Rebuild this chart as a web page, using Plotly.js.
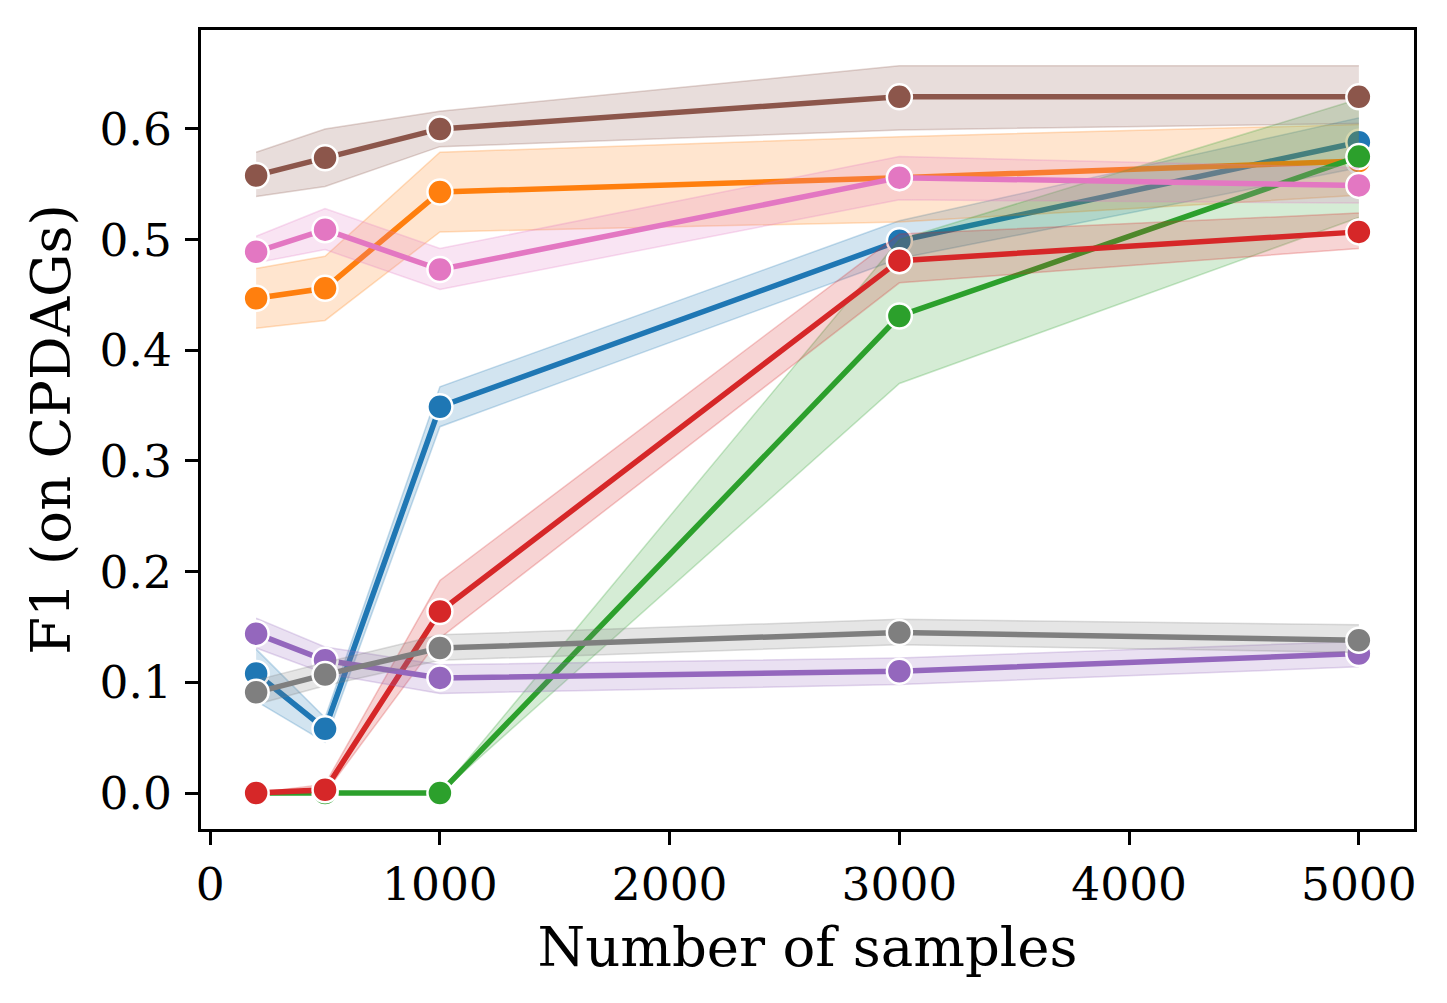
<!DOCTYPE html>
<html>
<head>
<meta charset="utf-8">
<script src="https://cdn.plot.ly/plotly-3.0.1.min.js"></script>
<style>html,body{margin:0;padding:0;background:#fff;}#chart{width:1447px;height:1003px;}</style>
</head>
<body>
<div id="chart"></div>
<script>
const samples = [200, 500, 1000, 3000, 5000];

const seriesNames = ["blue", "orange", "green", "red", "purple", "brown", "pink", "gray"];
const seriesColors = ["31,119,180", "255,127,14", "44,160,44", "214,39,40", "148,103,189", "140,86,75", "227,119,194", "127,127,127"];

const blueMean = [0.108, 0.058, 0.349, 0.499, 0.588];
const blueLo   = [0.083, 0.046, 0.331, 0.483, 0.565];
const blueHi   = [0.130, 0.068, 0.367, 0.517, 0.610];

const orangeMean = [0.447, 0.456, 0.543, 0.556, 0.571];
const orangeLo   = [0.420, 0.427, 0.507, 0.516, 0.540];
const orangeHi   = [0.474, 0.485, 0.579, 0.593, 0.604];

const greenMean = [0.000, 0.000, 0.000, 0.431, 0.575];
const greenLo   = [0.000, 0.000, 0.000, 0.370, 0.520];
const greenHi   = [0.000, 0.000, 0.000, 0.500, 0.627];

const redMean = [0.000, 0.003, 0.164, 0.481, 0.507];
const redLo   = [0.000, 0.000, 0.140, 0.461, 0.492];
const redHi   = [0.000, 0.008, 0.192, 0.505, 0.524];

const purpleMean = [0.144, 0.120, 0.104, 0.110, 0.126];
const purpleLo   = [0.131, 0.108, 0.090, 0.098, 0.114];
const purpleHi   = [0.158, 0.132, 0.116, 0.122, 0.137];

const brownMean = [0.558, 0.574, 0.600, 0.629, 0.629];
const brownLo   = [0.539, 0.548, 0.584, 0.599, 0.605];
const brownHi   = [0.579, 0.600, 0.616, 0.657, 0.657];

const pinkMean = [0.489, 0.509, 0.473, 0.556, 0.549];
const pinkLo   = [0.479, 0.491, 0.455, 0.536, 0.533];
const pinkHi   = [0.503, 0.528, 0.492, 0.575, 0.565];

const grayMean = [0.091, 0.107, 0.131, 0.145, 0.138];
const grayLo   = [0.080, 0.097, 0.120, 0.134, 0.127];
const grayHi   = [0.102, 0.118, 0.143, 0.157, 0.152];

const xTicks = [0, 1000, 2000, 3000, 4000, 5000];
const yTicks = [0.0, 0.1, 0.2, 0.3, 0.4, 0.5, 0.6];

const means = [blueMean, orangeMean, greenMean, redMean, purpleMean, brownMean, pinkMean, grayMean];
const los = [blueLo, orangeLo, greenLo, redLo, purpleLo, brownLo, pinkLo, grayLo];
const his = [blueHi, orangeHi, greenHi, redHi, purpleHi, brownHi, pinkHi, grayHi];

const traces = [];
for (let i = 0; i < seriesNames.length; i++) {
  const c = seriesColors[i];
  traces.push({
    x: samples, y: his[i], type: 'scatter', mode: 'lines',
    line: {color: 'rgba(' + c + ',0.25)', width: 1.5},
    showlegend: false, hoverinfo: 'skip'
  });
  traces.push({
    x: samples, y: los[i], type: 'scatter', mode: 'lines',
    fill: 'tonexty', fillcolor: 'rgba(' + c + ',0.2)',
    line: {color: 'rgba(' + c + ',0.25)', width: 1.5},
    showlegend: false, hoverinfo: 'skip'
  });
  traces.push({
    x: samples, y: means[i], type: 'scatter', mode: 'lines+markers',
    name: seriesNames[i],
    line: {color: 'rgb(' + c + ')', width: 5.5},
    marker: {color: 'rgb(' + c + ')', size: 25, line: {color: '#ffffff', width: 2.5}},
    showlegend: false
  });
}

const font = 'DejaVu Serif, serif';
const layout = {
  width: 1447, height: 1003,
  margin: {l: 201, r: 33, t: 30, b: 174},
  paper_bgcolor: '#ffffff', plot_bgcolor: '#ffffff',
  font: {family: font, color: '#000000', size: 45},
  showlegend: false,
  xaxis: {
    range: [-40, 5240],
    tickvals: xTicks, ticktext: xTicks.map(String),
    showgrid: false, zeroline: false,
    showline: true, mirror: true, linecolor: '#000000', linewidth: 3,
    ticks: 'outside', ticklen: 13, tickwidth: 3, tickcolor: '#000000',
    tickfont: {family: font, size: 45.5, color: '#000000'},
    title: {text: 'Number of samples', font: {family: font, size: 54.5, color: '#000000'}, standoff: 19}
  },
  yaxis: {
    range: [-0.0325, 0.6894],
    tickvals: yTicks, ticktext: yTicks.map(v => v.toFixed(1)),
    showgrid: false, zeroline: false,
    showline: true, mirror: true, linecolor: '#000000', linewidth: 3,
    ticks: 'outside', ticklen: 13, tickwidth: 3, tickcolor: '#000000',
    ticklabelstandoff: 4,
    tickfont: {family: font, size: 45.5, color: '#000000'},
    title: {text: 'F1 (on CPDAGs)', font: {family: font, size: 54.5, color: '#000000'}, standoff: 12}
  }
};

Plotly.newPlot('chart', traces, layout, {staticPlot: true, displayModeBar: false});
</script>
</body>
</html>
